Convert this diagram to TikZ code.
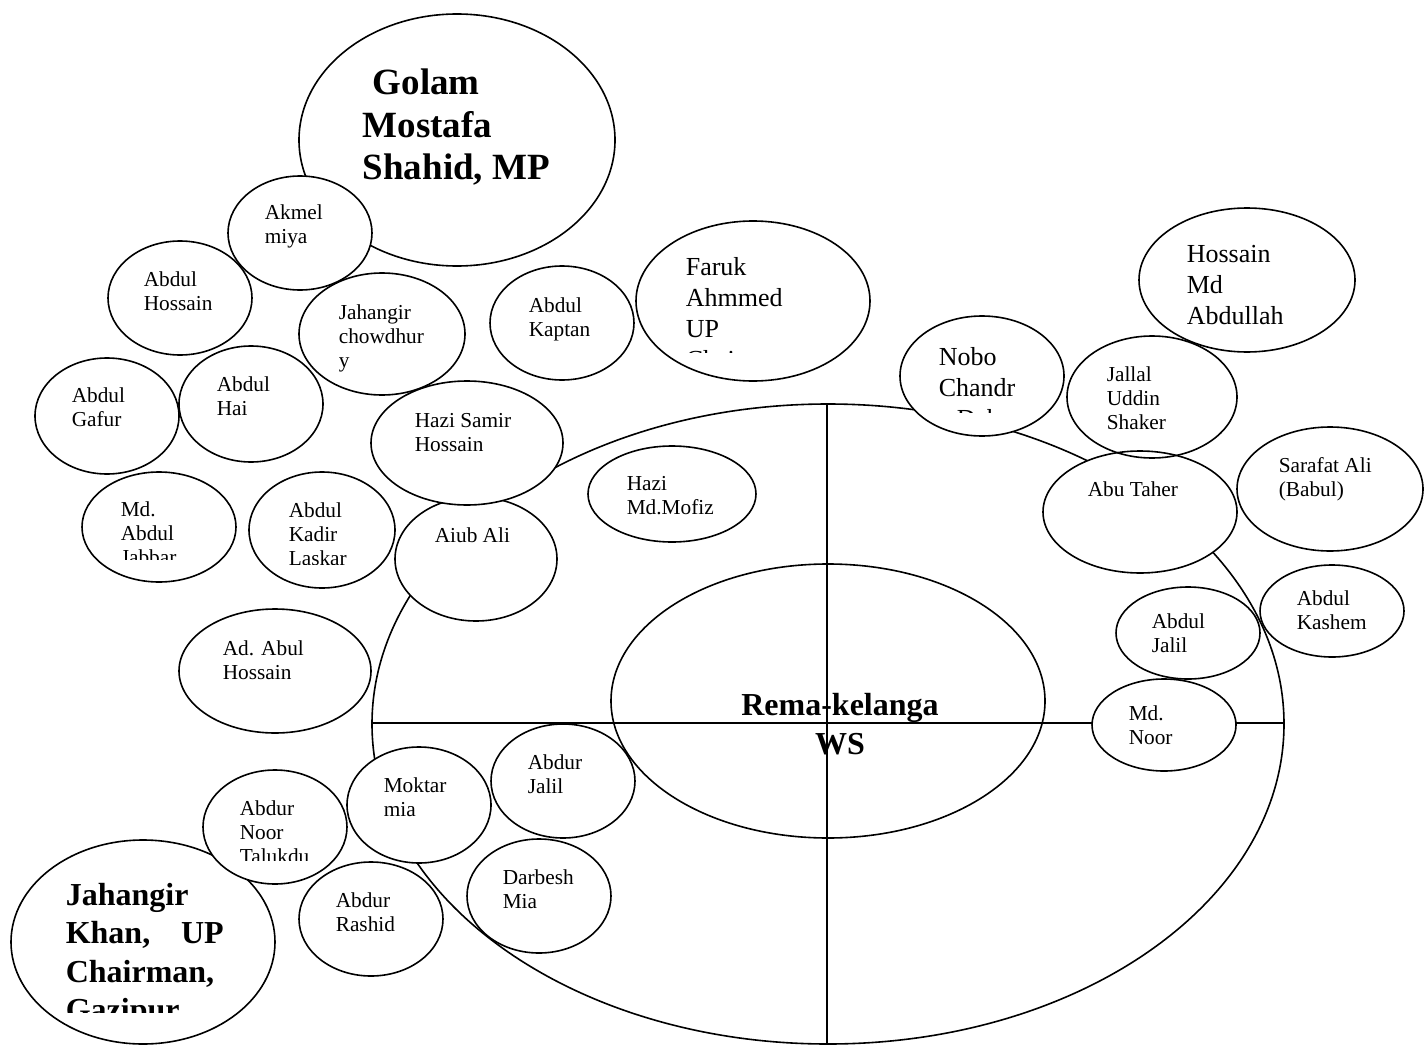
\documentclass[tikz,border=0pt]{standalone}
\usepackage{fontspec}
\setmainfont{Liberation Serif}
\newcommand\bublines[1]{\begin{tabular}[t]{@{}l@{}}#1\end{tabular}}
\newcommand\bubble[5][bub]{\draw[#1] (#2,#3) ellipse [x radius=#4pt, y radius=#5pt];}
\begin{document}
\begin{tikzpicture}[x=1pt,y=-1pt,line width=1.6pt,
  bub/.style={draw=black},
  fbub/.style={draw=black,fill=white},
  sm/.style={inner sep=0pt,anchor=base west,font=\fontsize{21.3}{24.4}\selectfont},
  md/.style={inner sep=0pt,anchor=base west,font=\fontsize{26}{31}\selectfont},
  gol/.style={inner sep=0pt,anchor=base west,font=\fontsize{37}{42.5}\selectfont\bfseries},
  jkh/.style={inner sep=0pt,anchor=base west,font=\fontsize{32}{38.5}\selectfont\bfseries},
  rem/.style={inner sep=0pt,anchor=base,font=\fontsize{32}{39}\selectfont\bfseries}]
\useasboundingbox (0,0) rectangle (1424,1046);
% outer ellipse and cross
\bubble{828}{724}{456}{320}
\coordinate (vtop) at (827,404);
\coordinate (vbot) at (827,1044);
\coordinate (hl) at (372,723);
\coordinate (hr) at (1284,723);
\draw (vtop) -- (vbot);
\draw (hl) -- (hr);
\bubble{828}{701}{217}{137}
% circles
\bubble[fbub]{457}{140}{158}{126}
\bubble[fbub]{300}{233}{72}{57}
\bubble{180}{298}{72}{57}
\bubble{382}{334}{83}{61}
\bubble{562}{323}{72}{57}
\bubble{753}{301}{117}{80}
\bubble{1247}{280}{108}{72}
\bubble[fbub]{982}{376}{82}{60}
\bubble[fbub]{1140}{512}{97}{61}
\bubble{1152}{397}{85}{61}
\bubble{1330}{489}{93}{62}
\bubble{672}{494}{84}{48}
\bubble[fbub]{476}{559}{81}{62}
\bubble[fbub]{467}{443}{96}{62}
\bubble{107}{416}{72}{58}
\bubble{251}{404}{72}{58}
\bubble{159}{527}{77}{55}
\bubble{322}{530}{73}{58}
\bubble{275}{671}{96}{62}
\bubble[fbub]{143}{942}{132}{102}
\bubble[fbub]{275}{827}{72}{57}
\bubble[fbub]{419}{805}{72}{58}
\bubble{563}{781}{72}{57}
\bubble{371}{919}{72}{57}
\bubble{539}{896}{72}{57}
\bubble{1188}{633}{72}{46}
\bubble{1332}{611}{72}{46}
\bubble[fbub]{1164}{725}{72}{46}
% texts
\node[gol] (golam) at (362,95) {\bublines{\hspace*{10pt}Golam\\Mostafa\\Shahid, MP}};
\node[sm] (akmel) at (264,219) {\bublines{Akmel\\miya}};
\node[sm] (ahossain) at (143,286) {\bublines{Abdul\\Hossain}};
\node[sm] (jchow) at (338,319) {\bublines{Jahangir\\chowdhur\\y}};
\node[sm] (kaptan) at (528,312) {\bublines{Abdul\\Kaptan}};
\begin{scope}
\clip (660,240) rectangle (860,352);
\node[md] (faruk) at (685,275) {\bublines{Faruk\\Ahmmed\\UP\\Chairman}};
\end{scope}
\node[md] (hossainmd) at (1186,262) {\bublines{Hossain\\Md\\Abdullah}};
\begin{scope}
\clip (920,330) rectangle (1060,412);
\node[md] (nobo) at (938,365) {\bublines{Nobo\\Chandr\\a Deb}};
\end{scope}
\node[sm] (jallal) at (1106,381) {\bublines{Jallal\\Uddin\\Shaker}};
\node[sm] (taher) at (1087,496) {\bublines{Abu Taher}};
\node[sm] (sarafat) at (1278,472) {\bublines{Sarafat Ali\\(Babul)}};
\node[sm] (mofiz) at (626,490) {\bublines{Hazi\\Md.Mofiz}};
\node[sm] (samir) at (414,427) {\bublines{Hazi Samir\\Hossain}};
\node[sm] (aiub) at (434,542) {\bublines{Aiub Ali}};
\node[sm] (gafur) at (71,402) {\bublines{Abdul\\Gafur}};
\node[sm] (hai) at (216,391) {\bublines{Abdul\\Hai}};
\begin{scope}
\clip (100,480) rectangle (240,559);
\node[sm] (jabbar) at (120,516) {\bublines{Md.\\Abdul\\Jabbar}};
\end{scope}
\begin{scope}
\clip (270,480) rectangle (400,564);
\node[sm] (kadir) at (288,517) {\bublines{Abdul\\Kadir\\Laskar}};
\end{scope}
\node[sm] (abul) at (222,655) {\bublines{Ad. Abul\\Hossain}};
\begin{scope}
\clip (220,780) rectangle (350,860);
\node[sm] (talukdu) at (239,815) {\bublines{Abdur\\Noor\\Talukdu}};
\end{scope}
\node[sm] (moktar) at (383,792) {\bublines{Moktar\\mia}};
\node[sm] (ajalil) at (527,769) {\bublines{Abdur\\Jalil}};
\node[sm] (rashid) at (335,907) {\bublines{Abdur\\Rashid}};
\node[sm] (darbesh) at (502,884) {\bublines{Darbesh\\Mia}};
\node[sm] (rjalil) at (1151,628) {\bublines{Abdul\\Jalil}};
\node[sm] (kashem) at (1296,605) {\bublines{Abdul\\Kashem}};
\node[sm] (mdnoor) at (1128,720) {\bublines{Md.\\Noor}};
\begin{scope}
\clip (40,860) rectangle (270,1012);
\node[jkh] (jkhan) at (65,905) {\bublines{Jahangir\\\makebox[158pt][s]{Khan,\ UP}\\Chairman,\\Gazipur}};
\end{scope}
\node[rem] (rema) at (840,715) {\begin{tabular}[t]{@{}c@{}}Rema-kelanga\\WS\end{tabular}};
\end{tikzpicture}
\end{document}
